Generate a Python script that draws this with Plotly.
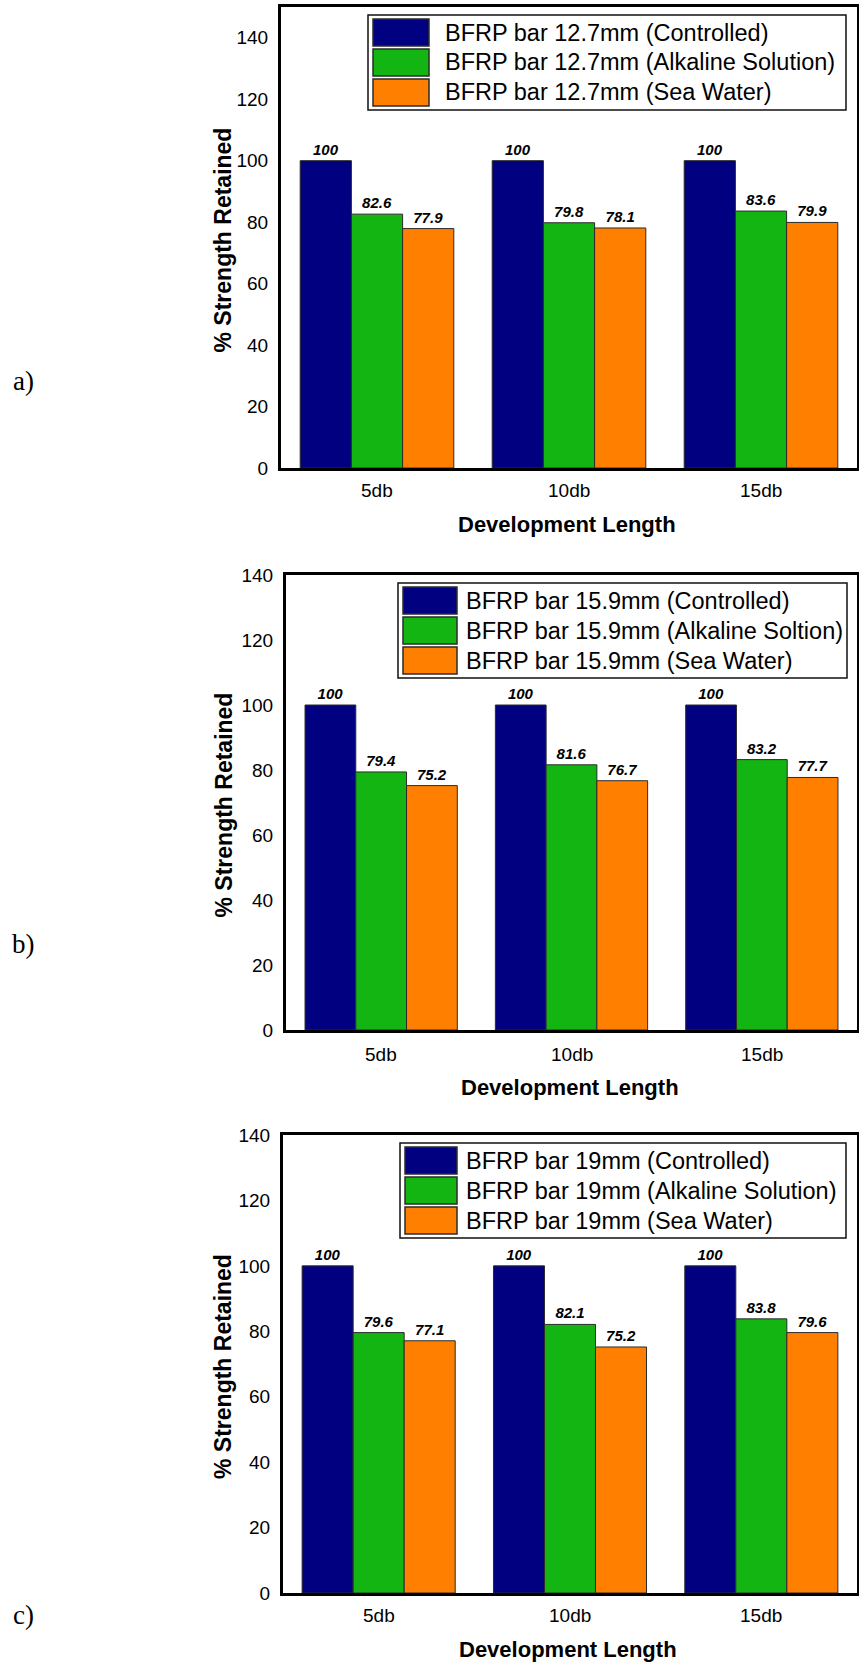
import plotly.graph_objects as go

# ---- data -------------------------------------------------------------
categories = ["5db", "10db", "15db"]

names_a = ["BFRP bar 12.7mm (Controlled)",
           "BFRP bar 12.7mm (Alkaline Solution)",
           "BFRP bar 12.7mm (Sea Water)"]
controlled_a = [100, 100, 100]
alkaline_a = [82.6, 79.8, 83.6]
seawater_a = [77.9, 78.1, 79.9]

names_b = ["BFRP bar 15.9mm (Controlled)",
           "BFRP bar 15.9mm (Alkaline Soltion)",
           "BFRP bar 15.9mm (Sea Water)"]
controlled_b = [100, 100, 100]
alkaline_b = [79.4, 81.6, 83.2]
seawater_b = [75.2, 76.7, 77.7]

names_c = ["BFRP bar 19mm (Controlled)",
           "BFRP bar 19mm (Alkaline Solution)",
           "BFRP bar 19mm (Sea Water)"]
controlled_c = [100, 100, 100]
alkaline_c = [79.6, 82.1, 83.8]
seawater_c = [77.1, 75.2, 79.6]

y_ticks = [0, 20, 40, 60, 80, 100, 120, 140]
panel_letters = ["a)", "b)", "c)"]

# ---- styling ----------------------------------------------------------
W, H = 859, 1664
COLORS = ["#000080", "#12B512", "#FF8000"]
EDGE = "#2b2b2b"
SANS = "Arial, Liberation Sans, sans-serif"
SERIF = "Times New Roman, Liberation Serif, serif"


def fx(px):
    return px / W


def fy(py):
    return 1 - py / H


# pixel layout of each panel
panels = [
    dict(names=names_a, series=[controlled_a, alkaline_a, seawater_a],
         left=281, right=857, top=7, bottom=468, ymax=150,
         letter_y=381, tick_y=490, title_y=524,
         leg=(368, 15, 846, 110), sw=(373, 429), rows=[19, 49, 79], row_h=27, text_x=443),
    dict(names=names_b, series=[controlled_b, alkaline_b, seawater_b],
         left=286, right=857, top=575, bottom=1030, ymax=140,
         letter_y=944, tick_y=1054, title_y=1087,
         leg=(398, 583, 847, 678), sw=(403, 457), rows=[587, 617, 647], row_h=27, text_x=464),
    dict(names=names_c, series=[controlled_c, alkaline_c, seawater_c],
         left=283, right=857, top=1135, bottom=1593, ymax=140,
         letter_y=1615, tick_y=1615, title_y=1649,
         leg=(400, 1143, 846, 1238), sw=(405, 457), rows=[1147, 1177, 1207], row_h=27, text_x=464),
]

fig = go.Figure()
shapes = []
annotations = []

for i, p in enumerate(panels):
    xa = "x" if i == 0 else f"x{i + 1}"
    ya = "y" if i == 0 else f"y{i + 1}"
    for name, vals, col in zip(p["names"], p["series"], COLORS):
        fig.add_trace(go.Bar(
            x=categories, y=vals, name=name, xaxis=xa, yaxis=ya,
            marker=dict(color=col, line=dict(color=EDGE, width=1)),
            texttemplate="%{y}", textposition="outside",
            textfont=dict(family=SANS, size=15, color="black",
                          weight="bold", style="italic"),
            constraintext="none", cliponaxis=False, showlegend=False,
        ))

    xkey = "xaxis" if i == 0 else f"xaxis{i + 1}"
    ykey = "yaxis" if i == 0 else f"yaxis{i + 1}"
    fig.update_layout({
        xkey: dict(domain=[fx(p["left"]), fx(p["right"])], anchor=ya,
                   showline=True, linecolor="black", linewidth=3, mirror=True,
                   showgrid=False, ticks="", showticklabels=False,
                   automargin=False, fixedrange=True),
        ykey: dict(domain=[fy(p["bottom"]), fy(p["top"])], anchor=xa,
                   range=[0, p["ymax"]], tickvals=y_ticks,
                   showline=True, linecolor="black", linewidth=3, mirror=True,
                   showgrid=False, zeroline=False, ticks="",
                   ticklabelstandoff=6,
                   tickfont=dict(family=SANS, size=19, color="black"),
                   automargin=False, fixedrange=True),
    })

    # category labels under the axis
    for cat in categories:
        annotations.append(dict(
            x=cat, y=fy(p["tick_y"]), xref=xa, yref="paper",
            text=cat, showarrow=False, xanchor="center", yanchor="middle",
            font=dict(family=SANS, size=19, color="black")))

    # axis titles
    annotations.append(dict(
        x=fx((p["left"] + p["right"]) / 2 - 2), y=fy(p["title_y"]),
        xref="paper", yref="paper", text="<b>Development Length</b>",
        showarrow=False, xanchor="center", yanchor="middle",
        font=dict(family=SANS, size=22, color="black")))
    annotations.append(dict(
        x=fx(223), y=fy((p["top"] + p["bottom"]) / 2 + 2),
        xref="paper", yref="paper", text="<b>% Strength Retained</b>",
        textangle=-90, showarrow=False, xanchor="center", yanchor="middle",
        font=dict(family=SANS, size=23, color="black")))

    # panel letter
    annotations.append(dict(
        x=fx(23), y=fy(p["letter_y"]), xref="paper", yref="paper",
        text=panel_letters[i], showarrow=False, xanchor="center", yanchor="middle",
        font=dict(family=SERIF, size=27, color="black")))

    # legend box with large swatches
    lx0, ly0, lx1, ly1 = p["leg"]
    shapes.append(dict(type="rect", xref="paper", yref="paper",
                       x0=fx(lx0), x1=fx(lx1), y0=fy(ly1), y1=fy(ly0),
                       line=dict(color="#111111", width=1.5), fillcolor="white",
                       layer="above"))
    for name, col, rtop in zip(p["names"], COLORS, p["rows"]):
        shapes.append(dict(type="rect", xref="paper", yref="paper",
                           x0=fx(p["sw"][0]), x1=fx(p["sw"][1]),
                           y0=fy(rtop + p["row_h"]), y1=fy(rtop),
                           line=dict(color=EDGE, width=1.5), fillcolor=col,
                           layer="above"))
        annotations.append(dict(
            x=fx(p["text_x"]), y=fy(rtop + p["row_h"] / 2), xref="paper", yref="paper",
            text=name, showarrow=False, xanchor="left", yanchor="middle",
            font=dict(family=SANS, size=23.5, color="black")))

fig.update_layout(
    width=W, height=H,
    margin=dict(l=0, r=0, t=0, b=0, autoexpand=False),
    paper_bgcolor="white", plot_bgcolor="white",
    barmode="group", bargap=0.2, bargroupgap=0,
    showlegend=False,
    shapes=shapes, annotations=annotations,
)

fig.write_html("out.html")
